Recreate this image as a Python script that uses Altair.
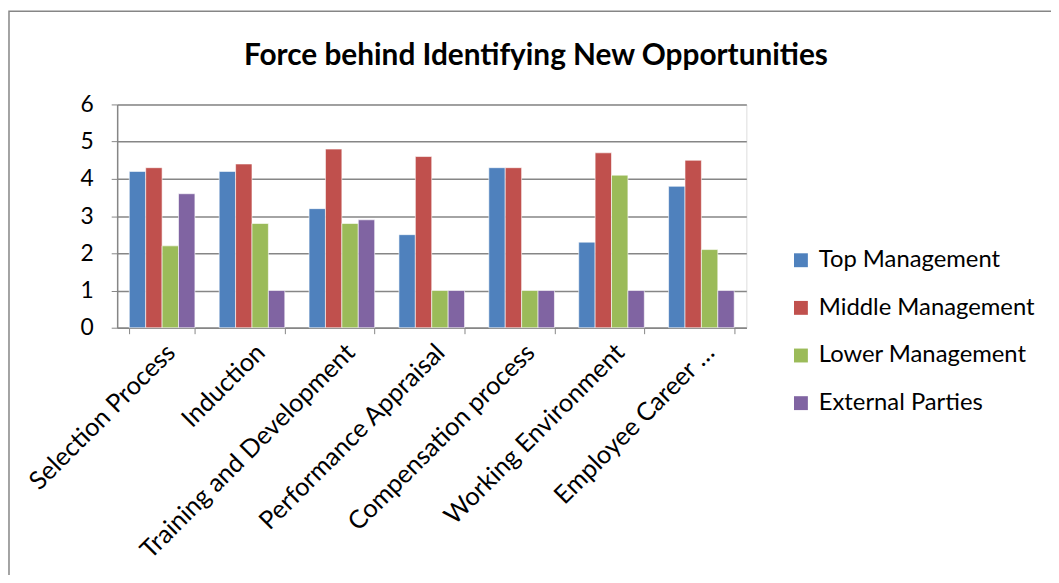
import altair as alt
import pandas as pd

categories = ["Selection Process", "Induction", "Training and Development",
              "Performance Appraisal", "Compensation process",
              "Working Environment", "Employee Career …"]
series = ["Top Management", "Middle Management", "Lower Management", "External Parties"]
top_mgmt = [4.2, 4.2, 3.2, 2.5, 4.3, 2.3, 3.8]
middle_mgmt = [4.3, 4.4, 4.8, 4.6, 4.3, 4.7, 4.5]
lower_mgmt = [2.2, 2.8, 2.8, 1.0, 1.0, 4.1, 2.1]
external = [3.6, 1.0, 2.9, 1.0, 1.0, 1.0, 1.0]
colors = ["#4F81BD", "#C0504D", "#9BBB59", "#8064A2"]
title_text = "Force behind Identifying New Opportunities"

rows = []
for s, vals in zip(series, [top_mgmt, middle_mgmt, lower_mgmt, external]):
    for c, v in zip(categories, vals):
        rows.append({"category": c, "series": s, "value": v})
df = pd.DataFrame(rows)

FONT = "Lato"

bars = alt.Chart(df).mark_bar(stroke="white", strokeWidth=0.6).encode(
    x=alt.X("category:N", sort=categories, title=None,
            scale=alt.Scale(paddingInner=0.27, paddingOuter=0.135),
            axis=alt.Axis(labelAngle=-45, labelFontSize=25.5, labelFont=FONT,
                          labelColor="black", domainColor="#868686", domainWidth=1.5,
                          tickBand="extent", tickColor="#868686", tickSize=6,
                          labelPadding=6, labelLimit=0, grid=False)),
    xOffset=alt.XOffset("series:N", sort=series, scale=alt.Scale(paddingInner=0, paddingOuter=0)),
    y=alt.Y("value:Q", title=None,
            scale=alt.Scale(domain=[0, 6], nice=False),
            axis=alt.Axis(values=[0, 1, 2, 3, 4, 5, 6], labelFontSize=23, labelFont=FONT,
                          labelColor="black", gridColor="#868686", gridWidth=1.5,
                          domainColor="#868686", domainWidth=1.5, tickColor="#868686",
                          tickSize=6, labelPadding=18)),
    color=alt.Color("series:N", sort=series,
                    scale=alt.Scale(domain=series, range=colors),
                    legend=alt.Legend(title=None, orient="none", legendX=677, legendY=145,
                                      symbolType="square", symbolSize=196,
                                      symbolStrokeWidth=0, labelFontSize=24,
                                      labelFont=FONT, labelColor="black",
                                      rowPadding=24, labelOffset=6, labelLimit=0)),
)

border = alt.Chart(pd.DataFrame({"a": [0]})).mark_rect(
    fill=None, stroke="#868686", strokeWidth=1.5, clip=False
).encode(x=alt.value(-109), x2=alt.value(960), y=alt.value(-94), y2=alt.value(520))

title = alt.Chart(pd.DataFrame({"t": [title_text]})).mark_text(
    font=FONT, fontSize=30, fontWeight="bold", color="black",
    align="center", baseline="alphabetic", clip=False
).encode(text="t:N", x=alt.value(422), y=alt.value(-40))

chart = alt.layer(border, bars, title).properties(
    width=634, height=225,
    padding={"left": 110, "top": 95, "right": 307, "bottom": 247},
    autosize=alt.AutoSizeParams(type="none"),
).configure_view(stroke=None).configure(background="white")

chart.save("out.html", embed_options={"renderer": "svg", "actions": False})
